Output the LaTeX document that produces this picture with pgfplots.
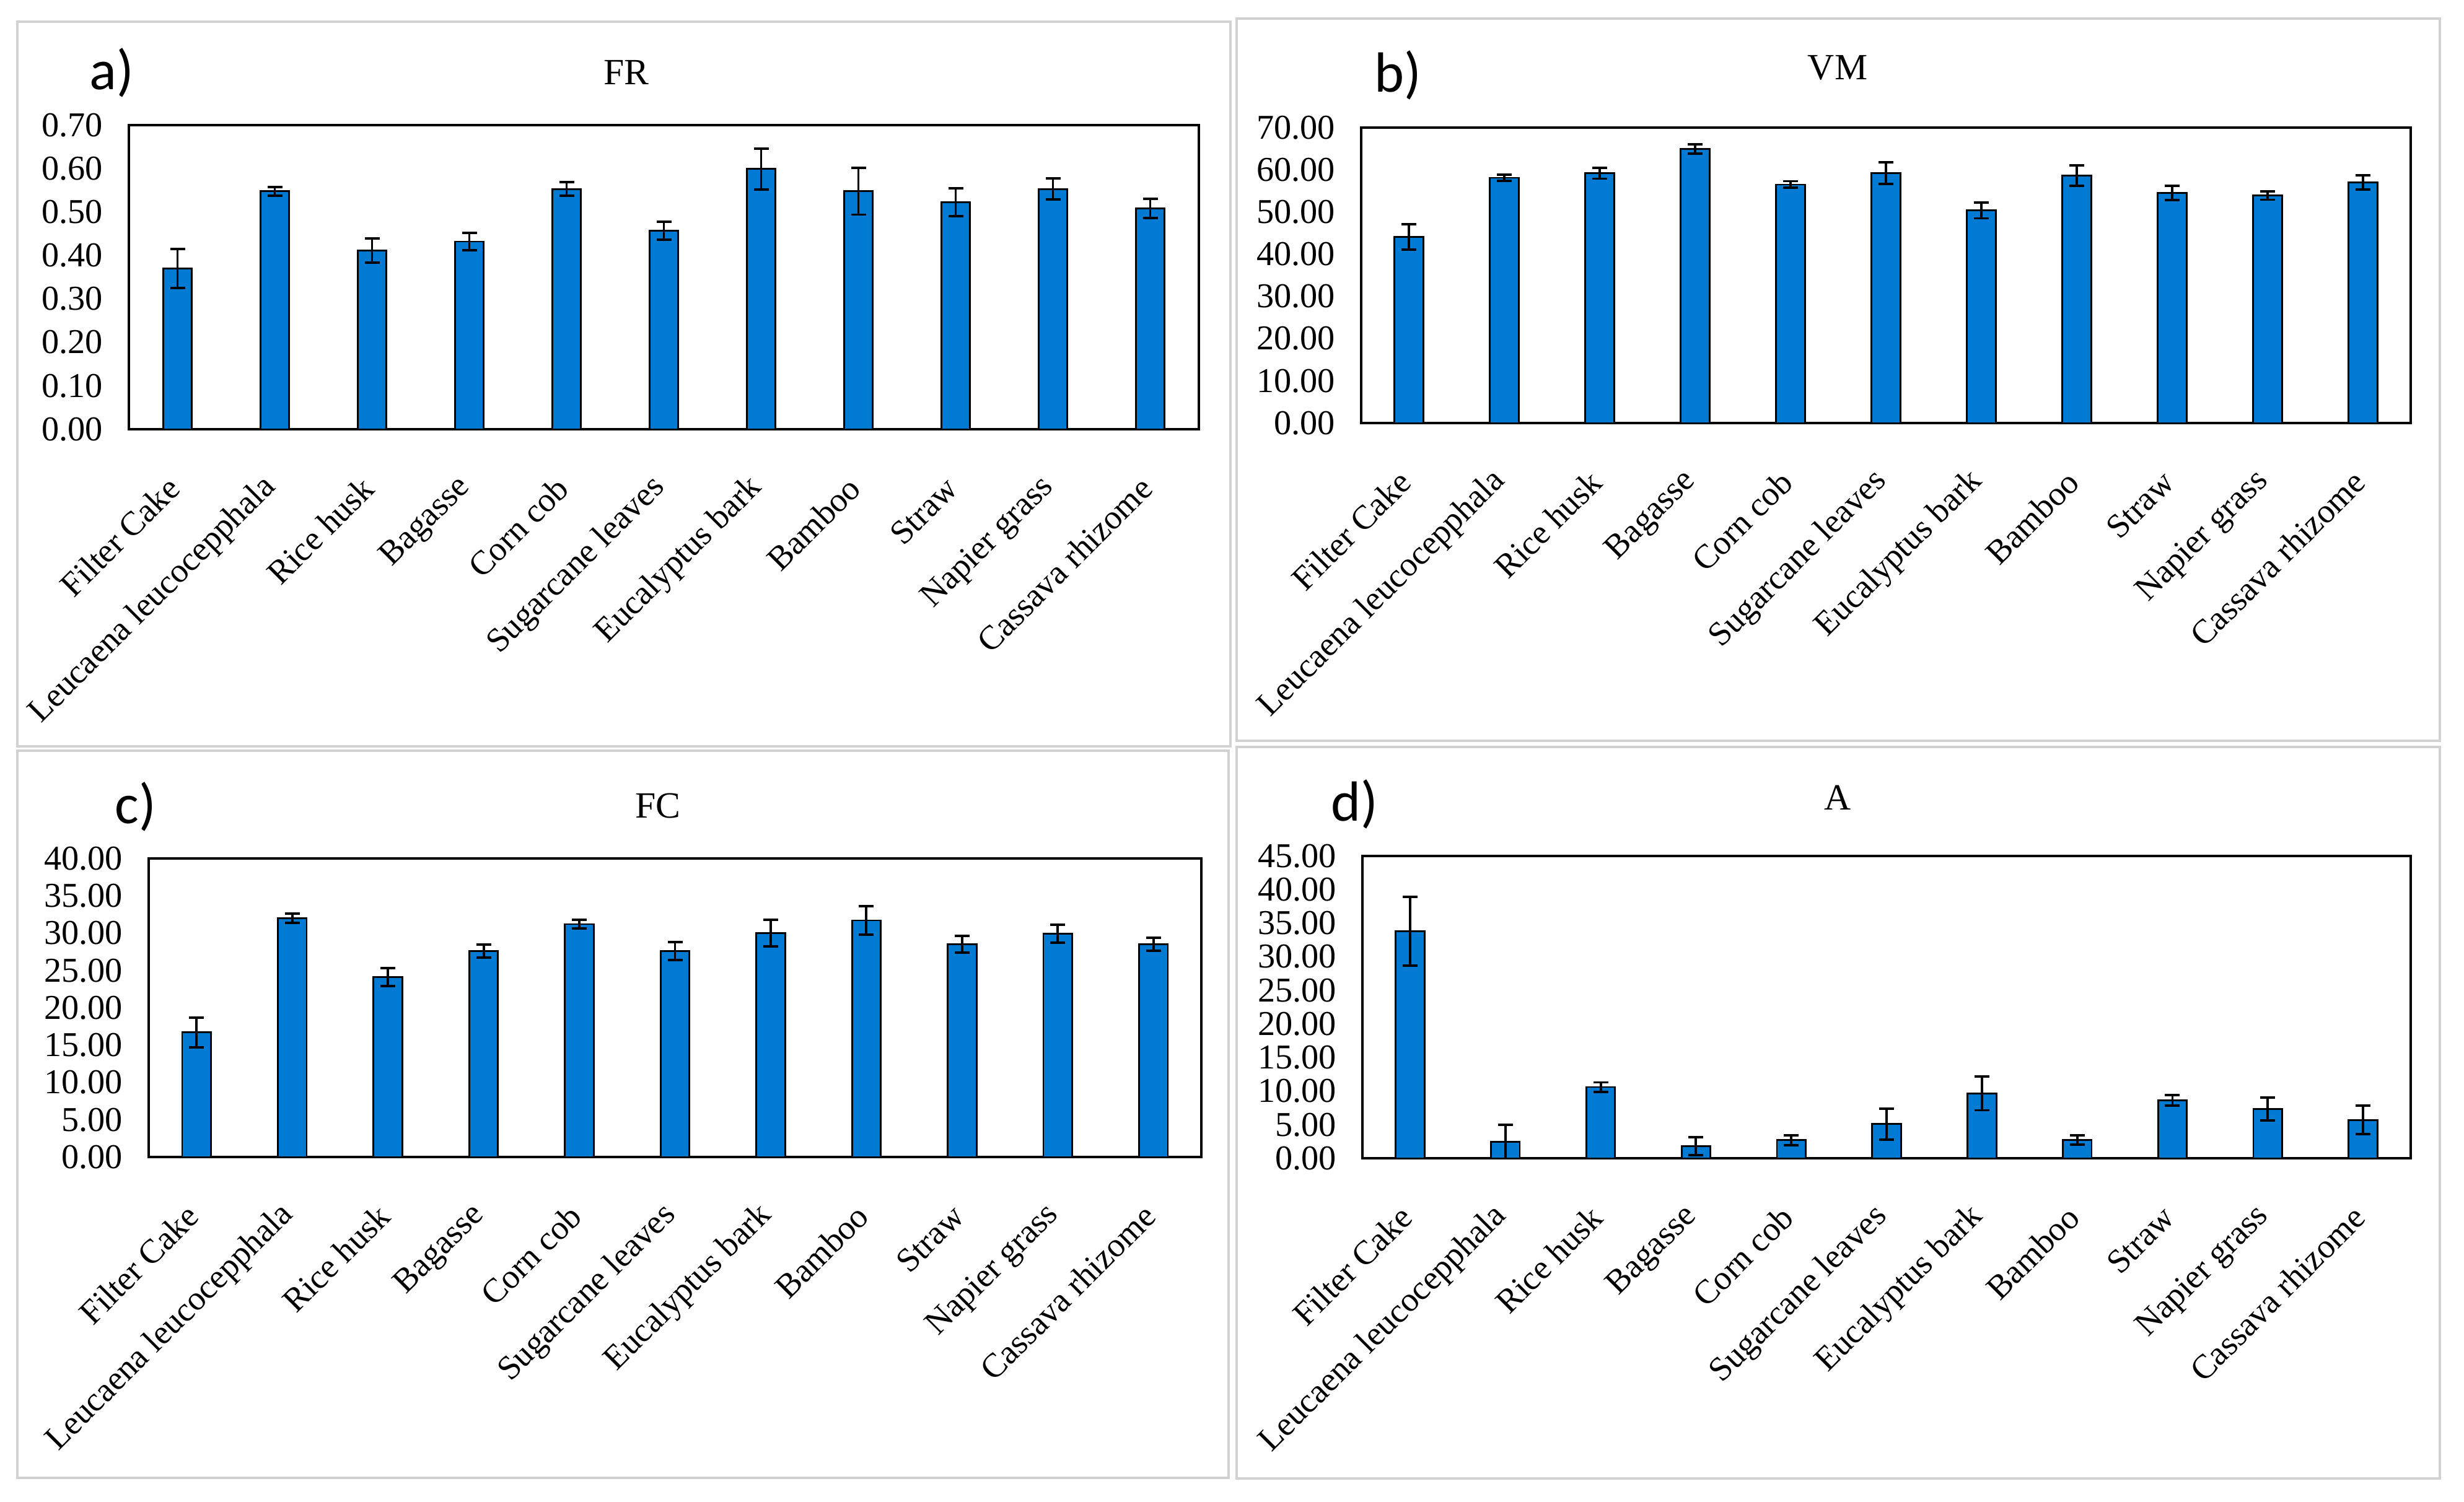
\documentclass[border=0pt]{standalone}
\usepackage{fontspec}
\setmainfont{Liberation Serif}
\newfontfamily\calibri{Carlito}
\usepackage{pgfplots}
\pgfplotsset{compat=1.18}

\definecolor{barblue}{RGB}{0,122,210}
\definecolor{framegray}{RGB}{210,210,210}

\pgfplotsset{
  panel/.style={
    scale only axis, anchor=south west,
    xmin=-0.5, xmax=10.5, ymin=0,
    axis line style={black, line width=1.1pt},
    major tick length=0pt,
    xtick={0,...,10},
    xticklabels={Filter Cake, Leucaena leucocepphala, Rice husk, Bagasse, Corn cob,
      Sugarcane leaves, Eucalyptus bark, Bamboo, Straw, Napier grass, Cassava rhizome},
    xticklabel style={font=\fontsize{15.6}{19}\selectfont, inner sep=0pt,
      xshift=-0.06cm, yshift=-0.86cm, rotate=45, anchor=east},
    yticklabel style={font=\fontsize{16}{19}\selectfont, xshift=-0.3cm,
      /pgf/number format/fixed, /pgf/number format/fixed zerofill,
      /pgf/number format/precision=2, /pgf/number format/assume math mode=true},
    scaled y ticks=false,
  },
  bars/.style={
    ybar, bar width=0.465cm, fill=barblue, draw=black, line width=0.8pt,
    error bars/.cd, y dir=both, y explicit,
    error bar style={line width=1.1pt, black},
    error mark options={rotate=90, mark size=0.12cm, line width=1.1pt, black},
  },
}

\begin{document}
\begin{tikzpicture}
\path (0,0) rectangle (39.77,24.25);

% panel frames
\draw[framegray, line width=1.2pt] (0.28,12.20) rectangle (19.86,23.90);
\draw[framegray, line width=1.2pt] (19.96,12.29) rectangle (39.38,23.95);
\draw[framegray, line width=1.2pt] (0.28,0.39) rectangle (19.83,12.13);
\draw[framegray, line width=1.2pt] (19.96,0.38) rectangle (39.38,12.19);

% a) FR
\begin{axis}[panel, at={(2.08cm,17.32cm)}, width=17.27cm, height=4.91cm,
  ymax=0.7, ytick={0,0.1,...,0.7}]
\addplot[bars] coordinates {
  (0,0.37) +- (0,0.045)
  (1,0.548) +- (0,0.010)
  (2,0.411) +- (0,0.028)
  (3,0.432) +- (0,0.020)
  (4,0.553) +- (0,0.016)
  (5,0.457) +- (0,0.021)
  (6,0.599) +- (0,0.047)
  (7,0.548) +- (0,0.054)
  (8,0.522) +- (0,0.032)
  (9,0.553) +- (0,0.024)
  (10,0.508) +- (0,0.022)
};
\end{axis}

% b) VM
\begin{axis}[panel, at={(21.97cm,17.42cm)}, width=16.94cm, height=4.77cm,
  ymax=70, ytick={0,10,...,70}]
\addplot[bars] coordinates {
  (0,44.1) +- (0,3.0)
  (1,58.1) +- (0,0.75)
  (2,59.2) +- (0,1.3)
  (3,64.9) +- (0,1.1)
  (4,56.5) +- (0,0.8)
  (5,59.2) +- (0,2.6)
  (6,50.4) +- (0,1.9)
  (7,58.6) +- (0,2.4)
  (8,54.5) +- (0,1.7)
  (9,53.9) +- (0,1.0)
  (10,57.0) +- (0,1.7)
};
\end{axis}

% c) FC
\begin{axis}[panel, at={(2.40cm,5.57cm)}, width=16.99cm, height=4.82cm,
  ymax=40, ytick={0,5,...,40}]
\addplot[bars] coordinates {
  (0,16.7) +- (0,2.0)
  (1,32.0) +- (0,0.6)
  (2,24.1) +- (0,1.2)
  (3,27.6) +- (0,0.9)
  (4,31.2) +- (0,0.6)
  (5,27.6) +- (0,1.2)
  (6,30.0) +- (0,1.8)
  (7,31.7) +- (0,1.9)
  (8,28.5) +- (0,1.1)
  (9,29.9) +- (0,1.2)
  (10,28.5) +- (0,0.9)
};
\end{axis}

% d) A
\begin{axis}[panel, at={(21.99cm,5.55cm)}, width=16.92cm, height=4.88cm,
  ymax=45, ytick={0,5,...,45}]
\addplot[bars] coordinates {
  (0,33.8) +- (0,5.1)
  (1,2.45) +- (0,2.5)
  (2,10.6) +- (0,0.7)
  (3,1.8) +- (0,1.3)
  (4,2.7) +- (0,0.75)
  (5,5.1) +- (0,2.3)
  (6,9.65) +- (0,2.5)
  (7,2.7) +- (0,0.7)
  (8,8.6) +- (0,0.8)
  (9,7.3) +- (0,1.7)
  (10,5.7) +- (0,2.1)
};
\end{axis}

% titles and panel letters
\node[font=\fontsize{17}{20}\selectfont] at (10.11,23.08) {FR};
\node[font=\fontsize{17}{20}\selectfont] at (29.66,23.16) {VM};
\node[font=\fontsize{17}{20}\selectfont] at (10.62,11.24) {FC};
\node[font=\fontsize{17}{20}\selectfont] at (29.66,11.37) {A};
\node[font=\calibri\fontsize{26}{30}\selectfont] at (1.80,23.08) {a)};
\node[font=\calibri\fontsize{26}{30}\selectfont] at (22.56,23.04) {b)};
\node[font=\calibri\fontsize{26}{30}\selectfont] at (2.19,11.23) {c)};
\node[font=\calibri\fontsize{26}{30}\selectfont] at (21.86,11.27) {d)};
\end{tikzpicture}
\end{document}
